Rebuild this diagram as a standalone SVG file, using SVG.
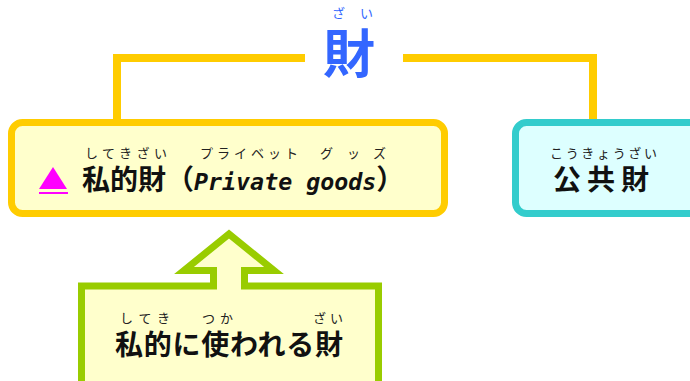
<svg xmlns="http://www.w3.org/2000/svg" width="690" height="381" viewBox="0 0 690 381">
<style>
.conn{stroke:#FFCC00;stroke-width:8;fill:none;stroke-linecap:butt}
.jp{font-family:"Noto Sans CJK JP","Noto Sans",sans-serif;font-weight:bold;fill:#111}
.ruby{font-family:"Noto Sans CJK JP","Noto Sans",sans-serif;font-size:13px;fill:#222}
.mono{font-family:"DejaVu Sans Mono","Liberation Mono",monospace;font-weight:bold;font-style:italic}
</style>
<rect width="690" height="381" fill="#FFFFFF"/>
<g id="connectors">
<line class="conn" x1="117" y1="58" x2="305" y2="58"/>
<line class="conn" x1="117" y1="54" x2="117" y2="122"/>
<line class="conn" x1="403" y1="58" x2="593" y2="58"/>
<line class="conn" x1="593" y1="54" x2="593" y2="122"/>
</g>
<g id="root">
<text x="332" y="18" font-family="Noto Sans CJK JP,sans-serif" font-size="13" fill="#3366FF">ざ</text>
<text x="360" y="18" font-family="Noto Sans CJK JP,sans-serif" font-size="13" fill="#3366FF">い</text>
<text x="349" y="73" font-family="Noto Sans CJK JP,sans-serif" font-weight="bold" font-size="52" fill="#3366FF" text-anchor="middle">財</text>
</g>
<g id="private">
<rect x="11.5" y="122.5" width="433" height="91" rx="11" fill="#FFFFCC" stroke="#FFCC00" stroke-width="7"/>
<polygon points="53,167 67,189 39,189" fill="#FF00FF"/>
<rect x="39" y="192" width="29" height="2" fill="#FF00FF"/>
<text class="ruby" x="85" y="158" textLength="82" lengthAdjust="spacing">してきざい</text>
<text class="ruby" x="200" y="158" textLength="98" lengthAdjust="spacing">プライベット</text>
<text class="ruby" x="320" y="158">グ</text>
<text class="ruby" x="347" y="158">ッ</text>
<text class="ruby" x="373" y="158">ズ</text>
<text class="jp" x="82" y="190" font-size="28">私的財（<tspan class="mono" font-size="23.3">Private goods</tspan>）</text>
</g>
<g id="public">
<rect x="515.5" y="122.5" width="200" height="91" rx="11" fill="#DDFFFF" stroke="#33CCCC" stroke-width="7"/>
<text class="ruby" x="550" y="158" textLength="107" lengthAdjust="spacing">こうきょうざい</text>
<text class="jp" x="553" y="190" font-size="28" letter-spacing="6">公共財</text>
</g>
<g id="use">
<path d="M81.5,392 V286 H213.5 V270.5 H184 L229,234 L274,270.5 H244.5 V286 H378.5 V392 Z" fill="#FFFFCC" stroke="#99CC00" stroke-width="7" stroke-linejoin="miter"/>
<text class="ruby" x="120" y="323" textLength="50" lengthAdjust="spacing">してき</text>
<text class="ruby" x="202" y="323" textLength="31" lengthAdjust="spacing">つか</text>
<text class="ruby" x="313" y="323" textLength="30" lengthAdjust="spacing">ざい</text>
<text class="jp" x="115" y="355" font-size="28" textLength="228" lengthAdjust="spacing">私的に使われる財</text>
</g>
</svg>
